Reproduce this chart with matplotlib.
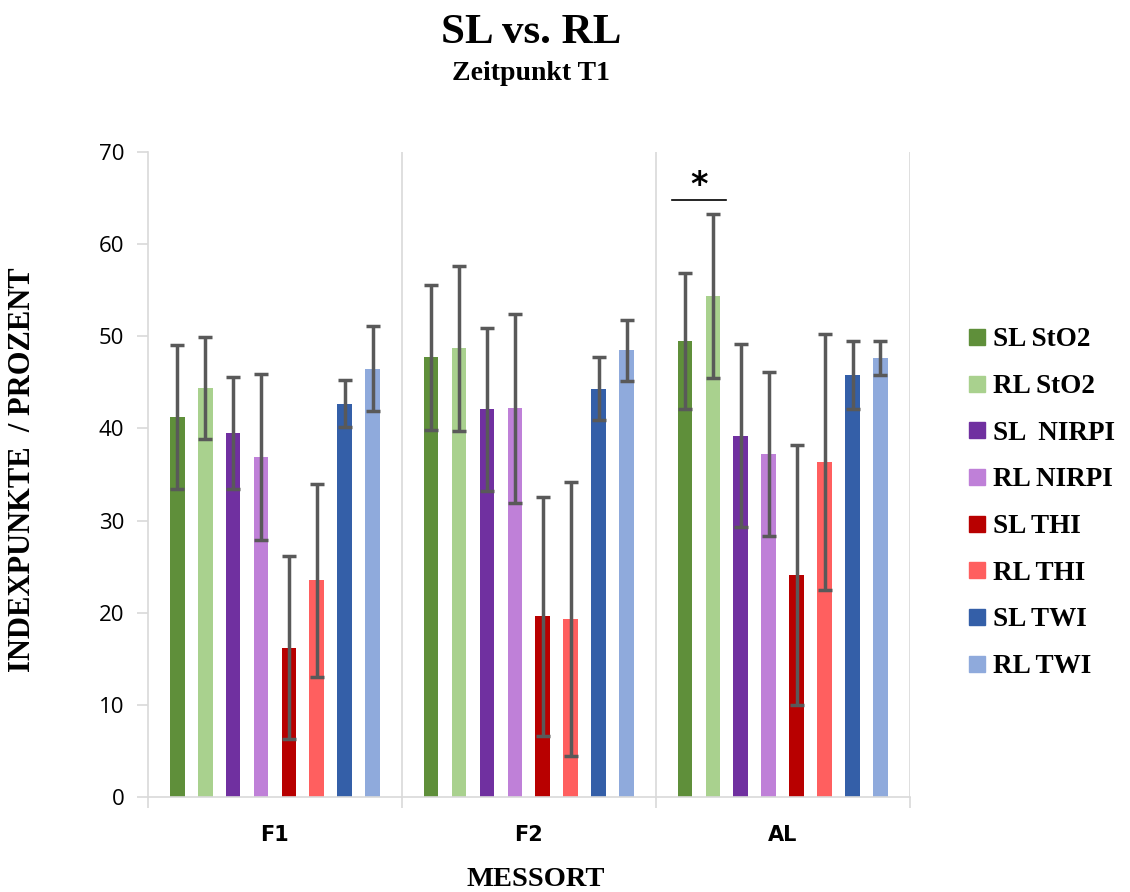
import matplotlib
matplotlib.use("Agg")
import matplotlib.pyplot as plt
from matplotlib.lines import Line2D
import numpy as np

# Messorte und Serien
sites = ["F1", "F2", "AL"]
series = ["SL StO2", "RL StO2", "SL  NIRPI", "RL NIRPI", "SL THI", "RL THI", "SL TWI", "RL TWI"]
colors = ["#5F8F3A", "#A9D18E", "#7030A0", "#BF80D8", "#B80000", "#FF5F5F", "#345FA8", "#8FAADC"]

# Mittelwerte je Serie (F1, F2, AL)
sl_sto2 = [41.2, 47.7, 49.5]
rl_sto2 = [44.4, 48.7, 54.4]
sl_nirpi = [39.5, 42.1, 39.2]
rl_nirpi = [36.9, 42.2, 37.2]
sl_thi = [16.2, 19.6, 24.1]
rl_thi = [23.5, 19.3, 36.4]
sl_twi = [42.7, 44.3, 45.8]
rl_twi = [46.5, 48.5, 47.6]

# Standardabweichungen
sd_sl_sto2 = [7.8, 7.9, 7.4]
sd_rl_sto2 = [5.5, 8.95, 8.9]
sd_sl_nirpi = [6.1, 8.85, 9.95]
sd_rl_nirpi = [9.05, 10.25, 8.9]
sd_sl_thi = [9.95, 13.0, 14.1]
sd_rl_thi = [10.45, 14.9, 13.9]
sd_sl_twi = [2.55, 3.4, 3.7]
sd_rl_twi = [4.6, 3.3, 1.85]

means = [sl_sto2, rl_sto2, sl_nirpi, rl_nirpi, sl_thi, rl_thi, sl_twi, rl_twi]
sds = [sd_sl_sto2, sd_rl_sto2, sd_sl_nirpi, sd_rl_nirpi, sd_sl_thi, sd_rl_thi, sd_sl_twi, sd_rl_twi]

serif = "Liberation Serif"
grid_col = "#D9D9D9"

fig = plt.figure(figsize=(11.3, 8.92), dpi=100)
ax = fig.add_axes([0.131, 0.1065, 0.674, 0.7231])

x = np.arange(len(sites))
step = 0.110
width = 0.058
for i in range(len(series)):
    off = (i - 3.5) * step
    ax.bar(x + off, means[i], width, color=colors[i], label=series[i],
           yerr=sds[i], error_kw=dict(ecolor="#595959", elinewidth=2.5, capsize=5, capthick=2.5))

# Signifikanz AL: SL StO2 vs RL StO2
x1 = 2 + (0 - 3.5) * step - 0.05
x2 = 2 + (1 - 3.5) * step + 0.052
ax.plot([x1, x2], [64.8, 64.8], color="black", lw=1.2)
ax.text((x1 + x2) / 2, 66.4, "*", ha="center", va="center", fontsize=24, fontweight="bold")

ax.set_xlim(-0.5, 2.5)
ax.set_ylim(0, 70)
ax.set_yticks(range(0, 71, 10))
for b in [0.5, 1.5, 2.5]:
    ax.axvline(b, color=grid_col, lw=1.2, zorder=0)

for s in ["top", "right"]:
    ax.spines[s].set_visible(False)
ax.spines["left"].set_color(grid_col)
ax.spines["bottom"].set_color(grid_col)
ax.spines["left"].set_linewidth(1.2)
ax.spines["bottom"].set_linewidth(1.2)

ax.tick_params(axis="y", length=8, color=grid_col, width=1.2, labelsize=16, pad=9)
ax.set_xticks(x)
ax.set_xticklabels(sites, fontweight="bold", fontsize=15, family="DejaVu Sans")
ax.set_xticks([-0.5, 0.5, 1.5, 2.5], minor=True)
ax.tick_params(axis="x", which="major", length=0, pad=20)
ax.tick_params(axis="x", which="minor", length=8, color=grid_col, width=1.2)
for lab in ax.get_yticklabels():
    lab.set_family("Open Sans")

fig.text(0.47, 0.963, "SL vs. RL", ha="center", va="center", fontsize=31,
         fontweight="bold", family=serif)
fig.text(0.47, 0.918, "Zeitpunkt T1", ha="center", va="center", fontsize=20,
         fontweight="bold", family=serif)
fig.text(0.020, 0.473, "INDEXPUNKTE  / PROZENT", rotation=90, ha="center", va="center",
         fontsize=22, fontweight="bold", family=serif)
fig.text(0.474, 0.0135, "MESSORT", ha="center", va="center", fontsize=20.5,
         fontweight="bold", family=serif)

handles = [Line2D([], [], marker="s", linestyle="none", markersize=11, color=c) for c in colors]
fig.legend(handles, series, loc="upper left", bbox_to_anchor=(0.848, 0.645), frameon=False,
           prop=dict(family=serif, weight="bold", size=19.5), handlelength=0.6,
           handletextpad=0.3, labelspacing=0.8, borderaxespad=0)

fig.savefig("out.png", dpi=100)
